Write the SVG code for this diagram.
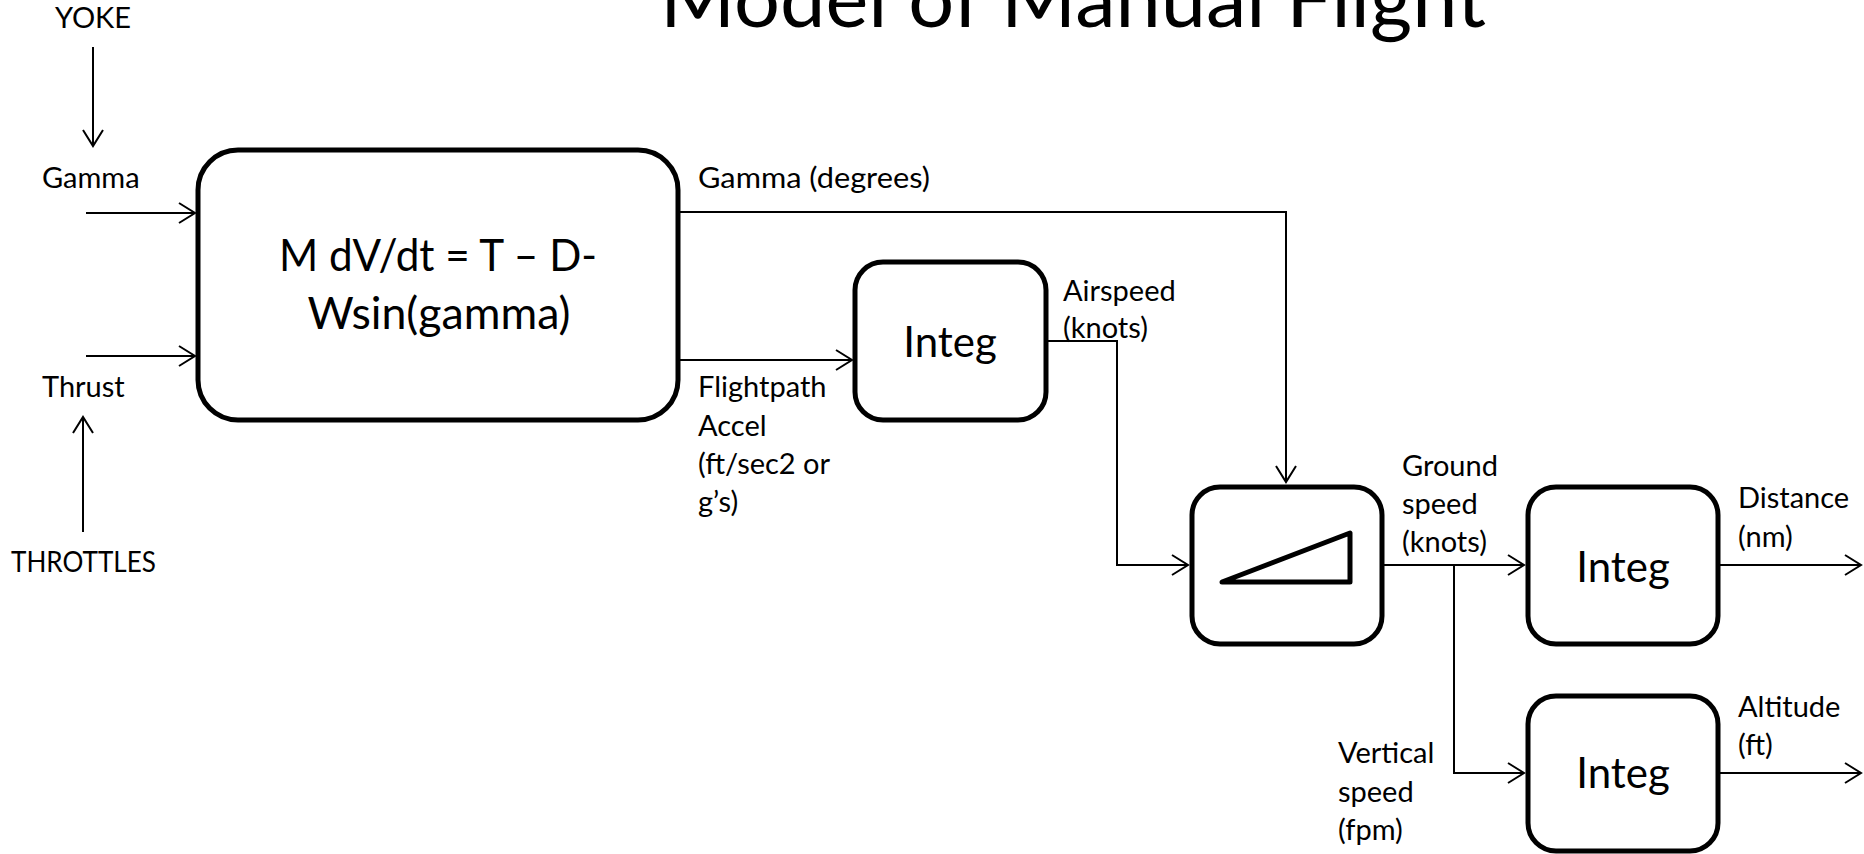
<svg xmlns="http://www.w3.org/2000/svg" width="1864" height="854" viewBox="0 0 1864 854">
  <style>
    text { font-family: Lato, "Open Sans", "Liberation Sans", sans-serif; fill: #000; }
    .title { font-size: 80px; text-anchor: middle; }
    .lbl { font-size: 29px; }
    .big { font-size: 42px; text-anchor: middle; }
    .eq { font-size: 44px; text-anchor: middle; }
    .box { fill: #fff; stroke: #000; stroke-width: 5; }
    .wire { fill: none; stroke: #000; stroke-width: 2; }
  </style>
  <defs>
    <marker id="arrow" markerUnits="userSpaceOnUse" markerWidth="24" markerHeight="24" viewBox="-18 -12 20 24" refX="0" refY="0" orient="auto">
      <path d="M -16 -10 L 0 0 L -16 10" fill="none" stroke="#000" stroke-width="2"/>
    </marker>
  </defs>
  <rect width="1864" height="854" fill="#fff"/>

  <!-- heading -->
  <text class="title" x="1073" y="27" textLength="826" lengthAdjust="spacingAndGlyphs">Model of Manual Flight</text>

  <!-- signal lines -->
  <g id="connectors" class="wire" marker-end="url(#arrow)">
    <path d="M 93 47 V 146"/>
    <path d="M 83 532 V 417"/>
    <path d="M 86 213 H 195"/>
    <path d="M 86 356 H 195"/>
    <path d="M 678 212 H 1286 V 482"/>
    <path d="M 678 360 H 852"/>
    <path d="M 1046 341 H 1117 V 565 H 1188"/>
    <path d="M 1382 565 H 1524"/>
    <path d="M 1454 565 V 773 H 1524"/>
    <path d="M 1719 565 H 1861"/>
    <path d="M 1719 773 H 1861"/>
  </g>

  <!-- inputs -->
  <g id="yoke">
    <text class="lbl" x="93" y="28" text-anchor="middle">YOKE</text>
    <text class="lbl" x="42" y="188">Gamma</text>
  </g>
  <g id="throttles">
    <text class="lbl" x="42" y="397">Thrust</text>
    <text class="lbl" x="11" y="572" textLength="145" lengthAdjust="spacingAndGlyphs">THROTTLES</text>
  </g>

  <!-- equation of motion -->
  <g id="dynamics">
    <rect class="box" x="198" y="150" width="480" height="270" rx="40" ry="40"/>
    <text class="eq" x="438" y="271" textLength="318" lengthAdjust="spacingAndGlyphs">M dV/dt = T – D-</text>
    <text class="eq" x="439" y="329" textLength="263" lengthAdjust="spacingAndGlyphs">Wsin(gamma)</text>
  </g>
  <g id="gamma-out">
    <text class="lbl" x="698" y="188" textLength="232" lengthAdjust="spacingAndGlyphs">Gamma (degrees)</text>
  </g>
  <g id="accel-out">
    <text class="lbl" x="698" y="397">Flightpath</text>
    <text class="lbl" x="698" y="436">Accel</text>
    <text class="lbl" x="698" y="474">(ft/sec2 or</text>
    <text class="lbl" x="698" y="512">g’s)</text>
  </g>

  <!-- airspeed integrator -->
  <g id="integ-airspeed">
    <rect class="box" x="855" y="262" width="191" height="158" rx="28" ry="28"/>
    <text class="big" x="950" y="357">Integ</text>
    <text class="lbl" x="1063" y="301">Airspeed</text>
    <text class="lbl" x="1063" y="338">(knots)</text>
  </g>

  <!-- ramp / resolver block -->
  <g id="ramp">
    <rect class="box" x="1192" y="487" width="190" height="157" rx="28" ry="28"/>
    <path d="M 1222 582 L 1350 533 L 1350 582 Z" fill="none" stroke="#000" stroke-width="5" stroke-linejoin="round"/>
    <text class="lbl" x="1402" y="476">Ground</text>
    <text class="lbl" x="1402" y="514">speed</text>
    <text class="lbl" x="1402" y="552">(knots)</text>
  </g>

  <!-- distance integrator -->
  <g id="integ-distance">
    <rect class="box" x="1528" y="487" width="190" height="157" rx="28" ry="28"/>
    <text class="big" x="1623" y="582">Integ</text>
    <text class="lbl" x="1738" y="508">Distance</text>
    <text class="lbl" x="1738" y="547">(nm)</text>
  </g>

  <!-- altitude integrator -->
  <g id="integ-altitude">
    <rect class="box" x="1528" y="696" width="190" height="155" rx="28" ry="28"/>
    <text class="big" x="1623" y="788">Integ</text>
    <text class="lbl" x="1738" y="717">Altitude</text>
    <text class="lbl" x="1738" y="755">(ft)</text>
    <text class="lbl" x="1338" y="763">Vertical</text>
    <text class="lbl" x="1338" y="802">speed</text>
    <text class="lbl" x="1338" y="840">(fpm)</text>
  </g>
</svg>
